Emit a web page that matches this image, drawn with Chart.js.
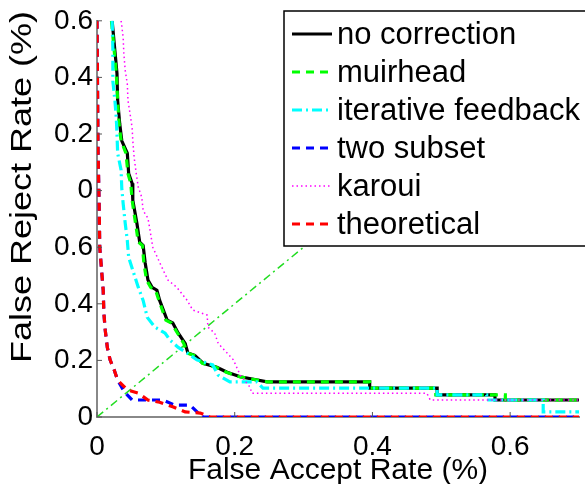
<!DOCTYPE html>
<html>
<head>
<meta charset="utf-8">
<script src="https://cdn.jsdelivr.net/npm/chart.js@4.4.1/dist/chart.umd.min.js"></script>
<style>
  html, body { margin: 0; padding: 0; background: #fff; }
</style>
</head>
<body>
<canvas id="roc" width="585" height="484"></canvas>
<script>
// axis ticks (the y labels cycle as in the original figure)
const xTicks = [0, 0.2, 0.4, 0.6];
const yTicks = [0, 0.1, 0.2, 0.3, 0.4, 0.5, 0.6, 0.7];
const yTickLabels = ['0', '0.2', '0.4', '0.6', '0', '0.2', '0.4', '0.6'];

const seriesNames = ['no correction', 'muirhead', 'iterative feedback', 'two subset', 'karoui', 'theoretical'];

// no correction
const noCorrX = [0.022, 0.026, 0.029, 0.030, 0.033, 0.036, 0.044, 0.046, 0.051, 0.052, 0.058, 0.062, 0.067, 0.070, 0.074, 0.080, 0.087, 0.091, 0.102, 0.110, 0.118, 0.128, 0.132, 0.142, 0.154, 0.174, 0.189, 0.208, 0.247, 0.396, 0.396, 0.494, 0.494, 0.578, 0.578, 0.700];
const noCorrY = [0.700, 0.647, 0.607, 0.559, 0.518, 0.488, 0.466, 0.430, 0.413, 0.383, 0.342, 0.309, 0.303, 0.272, 0.242, 0.229, 0.224, 0.206, 0.171, 0.166, 0.148, 0.130, 0.113, 0.109, 0.095, 0.088, 0.079, 0.071, 0.062, 0.062, 0.051, 0.051, 0.039, 0.039, 0.030, 0.030];

// muirhead
const muirX = [0.021, 0.025, 0.028, 0.030, 0.032, 0.035, 0.042, 0.045, 0.049, 0.051, 0.056, 0.060, 0.066, 0.068, 0.072, 0.078, 0.085, 0.090, 0.100, 0.108, 0.117, 0.126, 0.131, 0.141, 0.153, 0.173, 0.188, 0.207, 0.247, 0.396, 0.396, 0.492, 0.492, 0.593, 0.593, 0.700];
const muirY = [0.700, 0.647, 0.607, 0.559, 0.518, 0.488, 0.466, 0.430, 0.413, 0.383, 0.342, 0.309, 0.303, 0.272, 0.242, 0.229, 0.224, 0.206, 0.171, 0.166, 0.148, 0.130, 0.113, 0.109, 0.095, 0.088, 0.079, 0.071, 0.062, 0.062, 0.051, 0.051, 0.039, 0.039, 0.030, 0.030];

// iterative feedback
const iterX = [0.022, 0.023, 0.023, 0.026, 0.028, 0.029, 0.030, 0.035, 0.036, 0.038, 0.041, 0.044, 0.046, 0.052, 0.060, 0.067, 0.073, 0.084, 0.099, 0.106, 0.118, 0.131, 0.145, 0.168, 0.176, 0.193, 0.232, 0.241, 0.494, 0.494, 0.566, 0.566, 0.648, 0.648, 0.700];
const iterY = [0.700, 0.652, 0.594, 0.559, 0.529, 0.501, 0.466, 0.436, 0.404, 0.377, 0.342, 0.312, 0.282, 0.259, 0.229, 0.206, 0.176, 0.159, 0.148, 0.136, 0.123, 0.113, 0.101, 0.092, 0.074, 0.062, 0.062, 0.051, 0.051, 0.039, 0.039, 0.030, 0.030, 0.009, 0.009];

// two subset
const twoSubX = [0.000, 0.0015, 0.003, 0.004, 0.007, 0.009, 0.010, 0.012, 0.015, 0.019, 0.025, 0.030, 0.040, 0.051, 0.074, 0.096, 0.113, 0.135, 0.147, 0.150, 0.155, 0.700];
const twoSubY = [0.700, 0.471, 0.383, 0.300, 0.254, 0.224, 0.183, 0.153, 0.123, 0.101, 0.083, 0.065, 0.044, 0.030, 0.030, 0.030, 0.021, 0.021, 0.007, 0.002, 0.000, 0.000];

// karoui
const karouiX = [0.035, 0.036, 0.038, 0.039, 0.041, 0.044, 0.045, 0.048, 0.051, 0.052, 0.054, 0.057, 0.060, 0.065, 0.067, 0.074, 0.077, 0.081, 0.094, 0.103, 0.116, 0.131, 0.139, 0.160, 0.161, 0.171, 0.176, 0.189, 0.198, 0.208, 0.222, 0.225, 0.479, 0.484, 0.700];
const karouiY = [0.700, 0.691, 0.670, 0.642, 0.612, 0.589, 0.559, 0.536, 0.511, 0.488, 0.458, 0.430, 0.406, 0.388, 0.365, 0.351, 0.330, 0.300, 0.265, 0.242, 0.229, 0.206, 0.189, 0.180, 0.159, 0.148, 0.130, 0.113, 0.101, 0.074, 0.053, 0.042, 0.042, 0.030, 0.030];

// theoretical
const theoX = [0.000, 0.0015, 0.003, 0.004, 0.007, 0.009, 0.010, 0.012, 0.015, 0.019, 0.025, 0.030, 0.044, 0.060, 0.074, 0.091, 0.110, 0.128, 0.150, 0.164, 0.700];
const theoY = [0.700, 0.471, 0.383, 0.300, 0.254, 0.224, 0.183, 0.153, 0.123, 0.101, 0.083, 0.065, 0.048, 0.042, 0.030, 0.026, 0.018, 0.009, 0.007, 0.000, 0.000];

// equal error rate line
const eerX = [0, 0.7];
const eerY = [0, 0.7];

const pts = (xs, ys) => xs.map((x, i) => ({ x: x, y: ys[i] }));

const FONT = '"Liberation Sans", Arial, Helvetica, sans-serif';

const styles = [
  { color: '#000000', width: 3.2, dash: [] },
  { color: '#00ff00', width: 3.2, dash: [8, 6] },
  { color: '#00ffff', width: 3.2, dash: [10, 4, 2, 4] },
  { color: '#0000ff', width: 3.2, dash: [8, 6] },
  { color: '#ff00ff', width: 1.5, dash: [1.5, 3] },
  { color: '#ff0000', width: 3.2, dash: [8, 6] }
];
const seriesData = [
  pts(noCorrX, noCorrY),
  pts(muirX, muirY),
  pts(iterX, iterY),
  pts(twoSubX, twoSubY),
  pts(karouiX, karouiY),
  pts(theoX, theoY)
];

const datasets = seriesNames.map((name, i) => ({
  label: name,
  data: seriesData[i],
  borderColor: styles[i].color,
  borderWidth: styles[i].width,
  borderDash: styles[i].dash,
  pointRadius: 0,
  fill: false,
  tension: 0,
  order: seriesNames.length - i
}));
datasets.push({
  label: 'eer',
  data: pts(eerX, eerY),
  borderColor: '#22dd22',
  borderWidth: 1.5,
  borderDash: [8, 4, 2, 4],
  pointRadius: 0,
  fill: false,
  order: 10
});

// small inward tick marks like the matlab axes
const innerTicks = {
  id: 'innerTicks',
  afterDraw(chart) {
    const { ctx, chartArea: a, scales } = chart;
    ctx.save();
    ctx.strokeStyle = '#555';
    ctx.lineWidth = 1;
    scales.x.ticks.forEach(t => {
      const px = scales.x.getPixelForValue(t.value);
      ctx.beginPath(); ctx.moveTo(px, a.bottom); ctx.lineTo(px, a.bottom - 5); ctx.stroke();
    });
    scales.y.ticks.forEach(t => {
      const py = scales.y.getPixelForValue(t.value);
      ctx.beginPath(); ctx.moveTo(a.left, py); ctx.lineTo(a.left + 5, py); ctx.stroke();
    });
    ctx.restore();
  }
};

// y title, a bit stretched like the exported figure
const yTitle = {
  id: 'yTitle',
  afterDraw(chart) {
    const ctx = chart.ctx;
    ctx.save();
    ctx.translate(23, 187);
    ctx.rotate(-Math.PI / 2);
    ctx.scale(1.2, 1);
    ctx.font = '30px ' + FONT;
    ctx.fillStyle = '#000';
    ctx.textAlign = 'center';
    ctx.textBaseline = 'middle';
    ctx.fillText('False Reject Rate (%)', 0, 0);
    ctx.restore();
  }
};

// boxed legend in the upper right corner
const legendBox = {
  id: 'legendBox',
  afterDraw(chart) {
    const ctx = chart.ctx;
    ctx.save();
    ctx.fillStyle = '#fff';
    ctx.fillRect(284, 11, 330, 235);
    ctx.strokeStyle = '#000';
    ctx.lineWidth = 1.5;
    ctx.strokeRect(284, 11, 330, 235);
    ctx.font = '31px ' + FONT;
    ctx.textBaseline = 'middle';
    chart.data.datasets.forEach((ds, i) => {
      if (!seriesNames.includes(ds.label)) return;
      const y = 34 + i * 38;
      ctx.strokeStyle = ds.borderColor;
      ctx.lineWidth = ds.borderWidth;
      ctx.setLineDash(ds.borderDash);
      ctx.beginPath(); ctx.moveTo(292, y); ctx.lineTo(332, y); ctx.stroke();
      ctx.setLineDash([]);
      ctx.fillStyle = '#000';
      ctx.fillText(ds.label, 337, y + 1);
    });
    ctx.restore();
  }
};

new Chart(document.getElementById('roc').getContext('2d'), {
  type: 'line',
  data: { datasets: datasets },
  options: {
    responsive: false,
    animation: false,
    layout: { padding: { top: 20, right: 6, left: 0, bottom: 0 } },
    plugins: { legend: { display: false }, tooltip: { enabled: false } },
    scales: {
      x: {
        type: 'linear',
        min: 0, max: 0.7,
        afterFit: s => { s.height = 67; },
        afterBuildTicks: s => { s.ticks = xTicks.map(v => ({ value: v })); },
        grid: { drawOnChartArea: false, drawTicks: false },
        border: { display: true, color: '#888', width: 2 },
        ticks: { padding: 13, color: '#000', font: { size: 28, family: FONT }, callback: v => String(v) },
        title: { display: true, text: 'False Accept Rate (%)', color: '#000', font: { size: 30, family: FONT, lineHeight: 1 }, padding: { top: -2, bottom: -2 } }
      },
      y: {
        type: 'linear',
        min: 0, max: 0.7,
        afterFit: s => { s.width = 97; },
        afterBuildTicks: s => { s.ticks = yTicks.map(v => ({ value: v })); },
        grid: { drawOnChartArea: false, drawTicks: false },
        border: { display: true, color: '#888', width: 2 },
        ticks: {
          padding: 4, color: '#000', font: { size: 28, family: FONT },
          callback: (v, i) => yTickLabels[i]
        }
      }
    }
  },
  plugins: [innerTicks, yTitle, legendBox]
});
</script>
</body>
</html>
